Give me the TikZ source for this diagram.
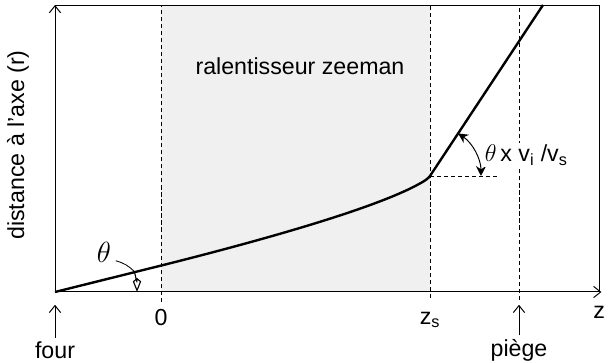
\documentclass[tikz,border=0pt]{standalone}
\usepackage{fontspec}
\setmainfont{Liberation Sans}
\usepackage{amsmath}
\usetikzlibrary{arrows.meta, positioning}
\definecolor{zonegray}{RGB}{240,240,240}
\begin{document}
\begin{tikzpicture}[
    lbl/.style={font=\fontsize{16.5}{19}\selectfont, inner sep=1pt},
    axe/.style={-{Straight Barb[length=5pt, width=8pt]}, line width=0.7pt},
    guide/.style={dashed, line width=0.6pt, dash pattern=on 3pt off 2pt},
    traj/.style={line width=1.7pt, line join=round},
    angarr/.style={{Stealth[length=7pt, width=7pt]}-{Stealth[length=7pt, width=7pt]}, line width=0.7pt}
  ]
  \useasboundingbox (-1.375,-1.775) rectangle (13.825,7.3);
  % zone du ralentisseur
  \fill[zonegray] (2.65,0) rectangle (9.375,7.175);
  \coordinate (O)    at (0,0);
  \coordinate (ytop) at (0,7.175);
  \coordinate (xend) at (13.66,0);
  \coordinate (tr)   at (13.6,7.175);
  \coordinate (br)   at (13.6,0);
  \coordinate (kink) at (9.375,2.9);
  \coordinate (hend) at (11.05,2.9);
  % lignes verticales
  \draw[guide] (2.65,-0.25) -- (2.65,7.175);
  \draw[guide] (9.375,-0.15) -- (9.375,7.175);
  \draw[guide] (11.6,-0.2) -- (11.6,7.175);
  \draw[guide] (kink) -- (hend);
  % cadre et axes
  \draw[line width=0.6pt] (ytop) -- (tr) -- (br);
  \draw[axe] (O) -- (ytop);
  \draw[axe] (O) -- (xend);
  % trajectoire
  \draw[traj] (O) -- (2.65,0.66)
    .. controls (6,1.5) and (8.2,2.2) .. (9.1,2.7)
    .. controls (9.25,2.78) and (9.32,2.83) .. (kink)
    -- (12.2,7.175);
  % angles
  \draw[angarr] ([shift={(56.5:1.275)}]kink) arc (56.5:0:1.275);
  \draw[line width=0.8pt, -{Kite[open, length=10pt, width=6pt]}]
    (14.3:2.05) coordinate (tharc) arc (14.3:0:2.05);
  \node[lbl, font=\fontsize{22}{24}\selectfont] (theta) at (1.22,1.0) {$\theta$};
  \draw[line width=0.6pt] (1.52,0.78) to[bend left=15] (tharc);
  \node[lbl, fill=white] (thetav) at (11.78,3.42) {$\theta$\,x v$_\mathrm{i}$ /v$_\mathrm{s}$};
  % textes
  \node[lbl] (zone) at (6.125,5.65) {ralentisseur zeeman};
  \node[lbl, rotate=90] (ylab) at (-0.925,3.675) {distance à l'axe (r)};
  \node[lbl] (zero) at (2.65,-0.65) {0};
  \node[lbl] (zs) at (9.375,-0.7) {z$_\mathrm{s}$};
  \node[lbl, anchor=west] (zlab) at (13.42,-0.5) {z};
  \node[lbl] (four) at (0,-1.45) {four};
  \node[lbl] (piege) at (11.6,-1.45) {piège};
  \draw[axe] (four.north) ++(0,0.05) coordinate (fourtail) -- (0,-0.32);
  \draw[axe] (piege.north) ++(0,0.05) coordinate (piegetail) -- (11.6,-0.32);
\end{tikzpicture}
\end{document}
